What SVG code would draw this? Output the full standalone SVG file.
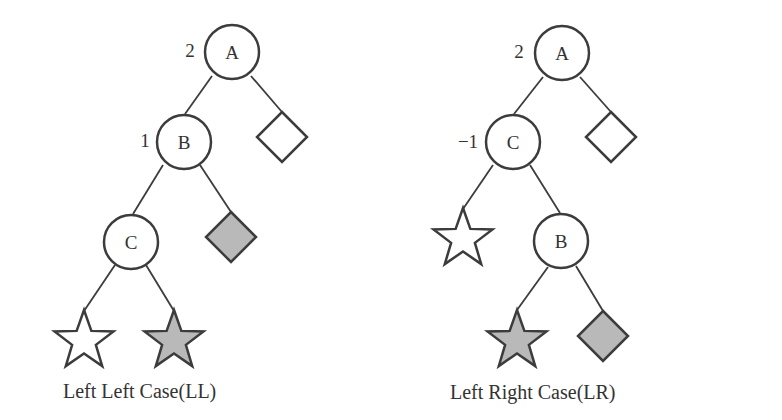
<svg xmlns="http://www.w3.org/2000/svg" xmlns:xlink="http://www.w3.org/1999/xlink" width="782" height="420" viewBox="0 0 782 420">
<style>
.circ{fill:#fff;stroke:#3c3c3c;stroke-width:2.5}
.wshape{fill:#fff;stroke:#3c3c3c;stroke-width:2.5;stroke-linejoin:miter}
.gshape{fill:#b9b9b9;stroke:#3c3c3c;stroke-width:2.5;stroke-linejoin:miter}
.edge{stroke:#3c3c3c;stroke-width:1.8;fill:none}
.lbl{font-family:"Liberation Serif","Times New Roman",serif;font-size:19px;fill:#333;text-anchor:middle}
.bal{font-family:"Liberation Serif","Times New Roman",serif;font-size:19px;fill:#333;text-anchor:middle}
.cap{font-family:"Liberation Serif","Times New Roman",serif;font-size:20px;fill:#333}
</style>
<defs>
<path id="star" d="M0,-31 L7.35,-10.11 L29.48,-9.58 L11.89,3.86 L18.22,25.08 L0,12.5 L-18.22,25.08 L-11.89,3.86 L-29.48,-9.58 L-7.35,-10.11 Z"/>
<path id="diamond" d="M0,-25 L25,0 L0,25 L-25,0 Z"/>
</defs>
<rect width="782" height="420" fill="#fff"/>
<g id="connectors">
<line class="edge" x1="212" y1="76" x2="185" y2="114"/>
<line class="edge" x1="251" y1="76" x2="282" y2="112"/>
<line class="edge" x1="163" y1="165" x2="133" y2="214"/>
<line class="edge" x1="200" y1="165" x2="231" y2="212"/>
<line class="edge" x1="115" y1="265" x2="84" y2="311"/>
<line class="edge" x1="146" y1="265" x2="174" y2="311"/>
<line class="edge" x1="543" y1="77" x2="514" y2="114"/>
<line class="edge" x1="580" y1="77" x2="611" y2="112"/>
<line class="edge" x1="493" y1="165" x2="463" y2="209"/>
<line class="edge" x1="530" y1="165" x2="560" y2="213"/>
<line class="edge" x1="548" y1="267" x2="517" y2="310"/>
<line class="edge" x1="576" y1="266" x2="603" y2="311"/>
</g>
<g id="ll-A"><circle class="circ" cx="232" cy="52" r="27"/><text class="lbl" x="232" y="59">A</text><text class="bal" x="190" y="57">2</text></g>
<g id="ll-B"><circle class="circ" cx="184" cy="142" r="27"/><text class="lbl" x="184" y="149">B</text><text class="bal" x="145" y="147">1</text></g>
<g id="ll-C"><circle class="circ" cx="131" cy="242" r="27"/><text class="lbl" x="131" y="249">C</text></g>
<g id="ll-diamond-white"><use href="#diamond" xlink:href="#diamond" class="wshape" transform="translate(282,137)"/></g>
<g id="ll-diamond-grey"><use href="#diamond" xlink:href="#diamond" class="gshape" transform="translate(231,237)"/></g>
<g id="ll-star-white"><use href="#star" xlink:href="#star" class="wshape" transform="translate(84,341)"/></g>
<g id="ll-star-grey"><use href="#star" xlink:href="#star" class="gshape" transform="translate(174,341)"/></g>
<g id="lr-A"><circle class="circ" cx="562" cy="53" r="27"/><text class="lbl" x="562" y="60">A</text><text class="bal" x="519" y="58">2</text></g>
<g id="lr-C"><circle class="circ" cx="513" cy="142" r="27"/><text class="lbl" x="513" y="149">C</text><text class="bal" x="468" y="148">−1</text></g>
<g id="lr-B"><circle class="circ" cx="561" cy="241" r="27"/><text class="lbl" x="561" y="248">B</text></g>
<g id="lr-diamond-white"><use href="#diamond" xlink:href="#diamond" class="wshape" transform="translate(611,137)"/></g>
<g id="lr-star-white"><use href="#star" xlink:href="#star" class="wshape" transform="translate(463,239)"/></g>
<g id="lr-star-grey"><use href="#star" xlink:href="#star" class="gshape" transform="translate(517,341)"/></g>
<g id="lr-diamond-grey"><use href="#diamond" xlink:href="#diamond" class="gshape" transform="translate(603,336)"/></g>
<text class="cap" x="63" y="398">Left Left Case(LL)</text>
<text class="cap" x="450" y="399">Left Right Case(LR)</text>
</svg>
